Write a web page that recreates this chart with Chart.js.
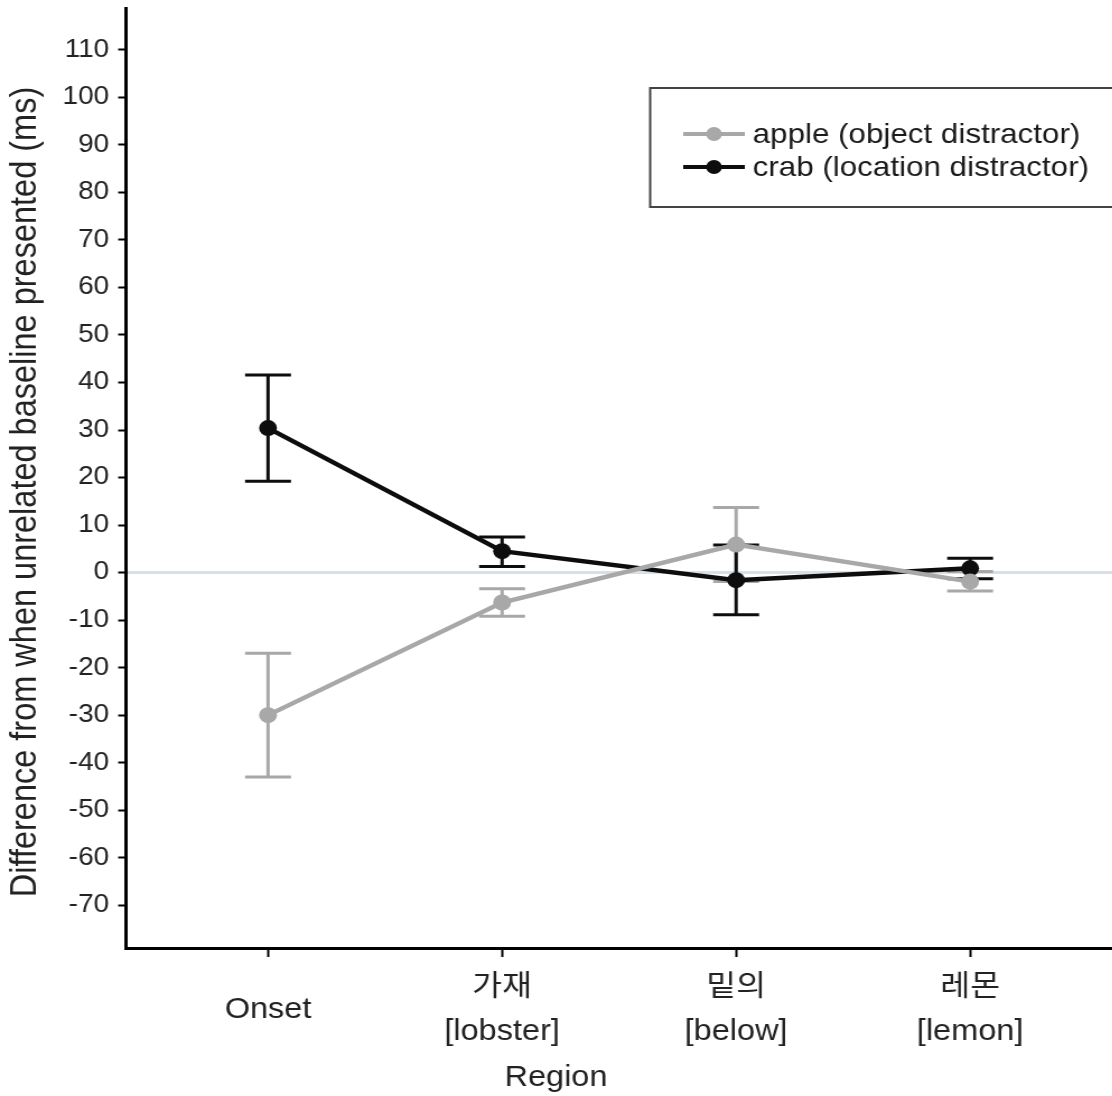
<!DOCTYPE html>
<html lang="en">
<head>
    <meta charset="UTF-8">
    <title>Difference from unrelated baseline</title>
    <script src="https://cdn.jsdelivr.net/npm/chart.js@4.4.1/dist/chart.umd.min.js"></script>
    <style>
        body { margin: 0; background: #fff; overflow: hidden; }
        #wrap { width: 1112px; height: 1096px; overflow: hidden; }
        /* the source figure is a little stretched sideways, so stretch x */
        #myChart { transform: scaleX(1.12); transform-origin: 0 0; }
    </style>
</head>
<body>
    <div id="wrap"><canvas id="myChart" width="993" height="1096"></canvas></div>
    <script>
        var SX = 1.12;

        var regions = ['Onset', ['가재', '[lobster]'], ['밑의', '[below]'], ['레몬', '[lemon]']];
        var yTicks = [-70, -60, -50, -40, -30, -20, -10, 0, 10, 20, 30, 40, 50, 60, 70, 80, 90, 100, 110];
        var xTitle = 'Region';
        var yTitle = 'Difference from when unrelated baseline presented (ms)';

        var apple = [-30, -6.3, 5.9, -1.9];
        var appleLo = [-43, -9.2, -1.9, -3.9];
        var appleHi = [-17, -3.4, 13.7, 0.2];

        var crab = [30.4, 4.5, -1.6, 0.9];
        var crabLo = [19.2, 1.3, -8.9, -1.3];
        var crabHi = [41.6, 7.5, 5.8, 3.0];

        var grey = '#a8a8a8';
        var black = '#0d0d0d';
        var FONT = "'Liberation Sans', Arial, 'Noto Sans CJK KR', sans-serif";

        function pts(arr) {
            return arr.map(function (v, i) { return { x: i, y: v }; });
        }

        Chart.defaults.font.family = FONT;
        Chart.defaults.color = '#222';

        // error bars, drawn under the lines
        var errorBars = {
            id: 'errorBars',
            beforeDatasetsDraw: function (chart) {
                var c = chart.ctx;
                var xs = chart.scales.x, ys = chart.scales.y;
                chart.data.datasets.forEach(function (ds) {
                    c.save();
                    c.strokeStyle = ds.borderColor;
                    c.lineWidth = 3;
                    for (var i = 0; i < ds.lo.length; i++) {
                        var x = xs.getPixelForValue(i);
                        var y1 = ys.getPixelForValue(ds.lo[i]);
                        var y2 = ys.getPixelForValue(ds.hi[i]);
                        var w = 20.5;
                        c.beginPath();
                        c.moveTo(x, y1); c.lineTo(x, y2);
                        c.moveTo(x - w, y1); c.lineTo(x + w, y1);
                        c.moveTo(x - w, y2); c.lineTo(x + w, y2);
                        c.stroke();
                    }
                    c.restore();
                });
            }
        };

        // axis titles placed where the figure has them
        var axisTitles = {
            id: 'axisTitles',
            afterDraw: function (chart) {
                var c = chart.ctx;
                c.save();
                c.fillStyle = '#222';
                c.textAlign = 'center';
                c.textBaseline = 'middle';
                c.font = '29px ' + FONT;
                c.fillText(xTitle, 556 / SX, 1078);
                c.translate(26 / SX, 492);
                c.rotate(-Math.PI / 2);
                c.font = '32.5px ' + FONT;
                c.fillText(yTitle, 0, 0);
                c.restore();
            }
        };

        // boxed legend in the upper right, open at the cropped right edge
        var boxLegend = {
            id: 'boxLegend',
            afterDraw: function (chart) {
                var c = chart.ctx;
                var right = chart.width + 10;
                c.save();
                c.strokeStyle = '#444';
                c.lineWidth = 2;
                c.beginPath();
                c.moveTo(right, 88); c.lineTo(580.5, 88);
                c.lineTo(580.5, 207); c.lineTo(right, 207);
                c.stroke();
                c.font = '28px ' + FONT;
                c.textBaseline = 'middle';
                chart.data.datasets.forEach(function (ds, i) {
                    var y = 134 + i * 33;
                    c.strokeStyle = ds.borderColor;
                    c.lineWidth = 4;
                    c.beginPath();
                    c.moveTo(610, y); c.lineTo(665, y);
                    c.stroke();
                    c.fillStyle = ds.borderColor;
                    c.beginPath();
                    c.arc(637.5, y, 7, 0, Math.PI * 2);
                    c.fill();
                    c.fillStyle = '#1a1a1a';
                    c.fillText(ds.label, 672, y + 1);
                });
                c.restore();
            }
        };

        var ctx = document.getElementById('myChart');
        var myChart = new Chart(ctx, {
            type: 'line',
            data: {
                datasets: [{
                    label: 'apple (object distractor)',
                    data: pts(apple),
                    lo: appleLo,
                    hi: appleHi,
                    borderColor: grey,
                    backgroundColor: grey,
                    borderWidth: 4.5,
                    pointRadius: 8,
                    pointBorderWidth: 0,
                    tension: 0
                }, {
                    label: 'crab (location distractor)',
                    data: pts(crab),
                    lo: crabLo,
                    hi: crabHi,
                    borderColor: black,
                    backgroundColor: black,
                    borderWidth: 4.5,
                    pointRadius: 8,
                    pointBorderWidth: 0,
                    tension: 0
                }]
            },
            options: {
                responsive: false,
                animation: false,
                devicePixelRatio: 1,
                layout: { autoPadding: false, padding: { top: 8, left: 0, right: 0, bottom: 0 } },
                plugins: {
                    legend: { display: false },
                    tooltip: { enabled: false }
                },
                scales: {
                    x: {
                        type: 'linear',
                        min: -0.607,
                        max: 3.607,
                        afterFit: function (s) {
                            s.height = 148;
                            s.paddingLeft = 0;
                            s.paddingRight = 0;
                        },
                        afterBuildTicks: function (s) {
                            s.ticks = regions.map(function (r, i) { return { value: i }; });
                        },
                        border: { color: '#000', width: 3 },
                        grid: { drawOnChartArea: false, tickLength: 9, tickColor: '#000', tickWidth: 2 },
                        ticks: {
                            padding: 31,
                            crossAlign: 'center',
                            maxRotation: 0,
                            font: { size: 29, lineHeight: 1.53 },
                            color: '#222',
                            callback: function (v) { return regions[v]; }
                        }
                    },
                    y: {
                        min: -79,
                        max: 118.8,
                        afterFit: function (s) {
                            s.width = 112.5;
                            s.paddingTop = 0;
                            s.paddingBottom = 0;
                        },
                        afterBuildTicks: function (s) {
                            s.ticks = yTicks.map(function (v) { return { value: v }; });
                        },
                        border: { color: '#000', width: 3 },
                        grid: {
                            color: function (c) { return c.tick && c.tick.value === 0 ? '#d9e0e5' : 'rgba(0,0,0,0)'; },
                            lineWidth: 3,
                            tickLength: 7,
                            tickColor: '#000',
                            tickWidth: 2
                        },
                        ticks: {
                            padding: 8,
                            font: { size: 25 },
                            color: '#222'
                        }
                    }
                }
            },
            plugins: [errorBars, axisTitles, boxLegend]
        });
    </script>
</body>
</html>
